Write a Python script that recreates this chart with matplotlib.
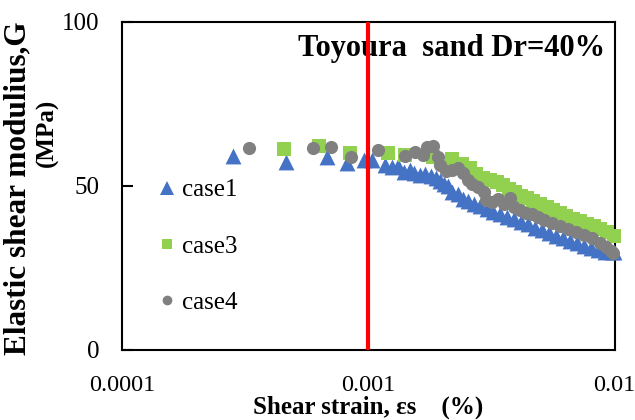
import matplotlib
matplotlib.use("Agg")
import matplotlib.pyplot as plt
from matplotlib.lines import Line2D

plt.rcParams['font.family'] = ['Liberation Serif', 'DejaVu Serif']

# case1: shear strain (%) and elastic shear modulus G (MPa)
case1_strain = [2.82e-4, 4.63e-4, 6.79e-4, 8.18e-4, 9.59e-4, 1.033e-3, 1.167e-3, 1.245e-3,
                1.317e-3, 1.393e-3, 1.474e-3, 1.530e-3, 1.618e-3, 1.696e-3, 1.793e-3, 1.879e-3,
                1.950e-3, 2.025e-3, 2.102e-3, 2.182e-3, 2.307e-3, 2.417e-3, 2.533e-3, 2.680e-3,
                2.834e-3, 3.025e-3, 3.200e-3, 3.415e-3, 3.645e-3, 3.893e-3, 4.156e-3, 4.437e-3,
                4.737e-3, 5.057e-3, 5.398e-3, 5.763e-3, 6.152e-3, 6.568e-3, 7.011e-3, 7.485e-3,
                7.991e-3, 8.531e-3, 9.108e-3, 9.723e-3, 9.9e-3]
case1_G = [59.1, 57.3, 58.8, 57.0, 57.9, 57.9, 56.4, 55.8,
           56.1, 54.3, 54.9, 54.0, 53.4, 53.7, 53.0, 52.4,
           51.5, 50.6, 50.0, 48.2, 47.6, 46.0, 45.4, 44.5,
           43.9, 43.0, 42.1, 41.5, 40.5, 39.9, 39.0, 38.4,
           37.2, 36.6, 35.7, 34.8, 34.1, 33.2, 32.6, 31.7,
           31.1, 30.5, 29.9, 29.9, 29.9]

case3_strain = [4.54e-4, 6.30e-4, 8.41e-4, 1.200e-3, 1.407e-3, 1.827e-3, 2.182e-3, 2.395e-3,
                2.581e-3, 2.730e-3, 2.914e-3, 3.111e-3, 3.321e-3, 3.512e-3, 3.715e-3, 3.929e-3,
                4.156e-3, 4.395e-3, 4.649e-3, 4.963e-3, 5.298e-3, 5.604e-3, 5.982e-3, 6.327e-3,
                6.754e-3, 7.211e-3, 7.699e-3, 8.217e-3, 8.692e-3, 9.281e-3, 9.906e-3]
case3_G = [61.3, 62.2, 60.1, 60.1, 59.5, 58.8, 58.2, 56.7,
           55.5, 53.7, 52.4, 51.8, 51.2, 50.3, 49.1, 48.2,
           47.0, 46.3, 45.4, 44.5, 43.6, 42.7, 41.8, 40.9,
           39.9, 39.3, 38.4, 37.8, 36.9, 36.0, 34.8]

case4_strain = [3.27e-4, 5.95e-4, 7.05e-4, 8.49e-4, 1.093e-3, 1.407e-3, 1.544e-3, 1.664e-3,
                1.727e-3, 1.827e-3, 1.914e-3, 1.950e-3, 2.063e-3, 2.182e-3, 2.307e-3, 2.417e-3,
                2.533e-3, 2.630e-3, 2.782e-3, 2.941e-3, 2.997e-3, 3.170e-3, 3.352e-3, 3.545e-3,
                3.750e-3, 3.893e-3, 4.117e-3, 4.354e-3, 4.606e-3, 4.871e-3, 5.152e-3, 5.551e-3,
                5.982e-3, 6.446e-3, 6.946e-3, 7.485e-3, 8.066e-3, 8.692e-3, 9.194e-3, 9.634e-3,
                9.815e-3]
case4_G = [61.6, 61.6, 61.9, 58.8, 61.0, 59.1, 60.4, 59.5,
           61.9, 62.2, 58.8, 56.4, 54.6, 54.9, 55.5, 54.0,
           51.8, 50.6, 49.7, 48.2, 45.7, 45.1, 46.0, 44.5,
           46.3, 43.6, 42.7, 41.8, 41.5, 40.5, 39.6, 38.7,
           37.8, 36.9, 36.0, 35.1, 34.1, 32.6, 31.4, 30.2,
           29.6]

x_ticks = [0.0001, 0.001, 0.01]
x_ticklabels = ['0.0001', '0.001', '0.01']
y_ticks = [0, 50, 100]
threshold_strain = 0.001

blue = '#4472C4'
green = '#92D050'
gray = '#808080'

fig = plt.figure(figsize=(6.35, 4.2), dpi=100)
ax = fig.add_axes([0.192, 0.1667, 0.776, 0.781])

ax.scatter(case1_strain, case1_G, marker='^', s=130, color=blue, linewidths=0, clip_on=False, zorder=3)
ax.scatter(case3_strain, case3_G, marker='s', s=100, color=green, linewidths=0, clip_on=False, zorder=4)
ax.scatter(case4_strain, case4_G, marker='o', s=90, color=gray, linewidths=0, clip_on=False, zorder=5)

ax.axvline(threshold_strain, color='#FF0000', linewidth=3, zorder=6)

ax.set_xscale('log')
ax.set_xlim(1e-4, 1e-2)
ax.set_ylim(0, 100)
ax.set_xticks(x_ticks)
ax.set_xticklabels(x_ticklabels)
ax.minorticks_off()
ax.set_yticks(y_ticks)
ax.tick_params(axis='x', length=0, pad=18, labelsize=17.5)
ax.tick_params(axis='y', direction='in', length=8, width=1.5, pad=16, labelsize=18)
for side in ax.spines.values():
    side.set_linewidth(1.5)

ax.set_xlabel('Shear strain, εs    (%)', fontsize=18, fontweight='bold', labelpad=0)

# y-axis title split in two lines placed separately
fig.text(18 / 635, 1 - 188 / 420, 'Elastic shear modulius,G', rotation=90, ha='center', va='center',
         fontsize=22.5, fontweight='bold')
fig.text(47 / 635, 1 - 133 / 420, '(MPa)', rotation=90, ha='center', va='center',
         fontsize=18, fontweight='bold')

ax.text(0.98, 0.92, 'Toyoura  sand Dr=40%', transform=ax.transAxes, ha='right', va='center',
        fontsize=22, fontweight='bold')

handles = [
    Line2D([], [], linestyle='none', marker='^', markersize=10, color=blue, markeredgewidth=0),
    Line2D([], [], linestyle='none', marker='s', markersize=7, color=green, markeredgewidth=0),
    Line2D([], [], linestyle='none', marker='o', markersize=7, color=gray, markeredgewidth=0),
]
ax.legend(handles, ['case1', 'case3', 'case4'], loc='upper left', bbox_to_anchor=(0.035, 0.56),
          frameon=False, fontsize=18, handletextpad=0.0, handlelength=1.2, labelspacing=1.35,
          borderpad=0)

fig.savefig('out.png', dpi=100)
